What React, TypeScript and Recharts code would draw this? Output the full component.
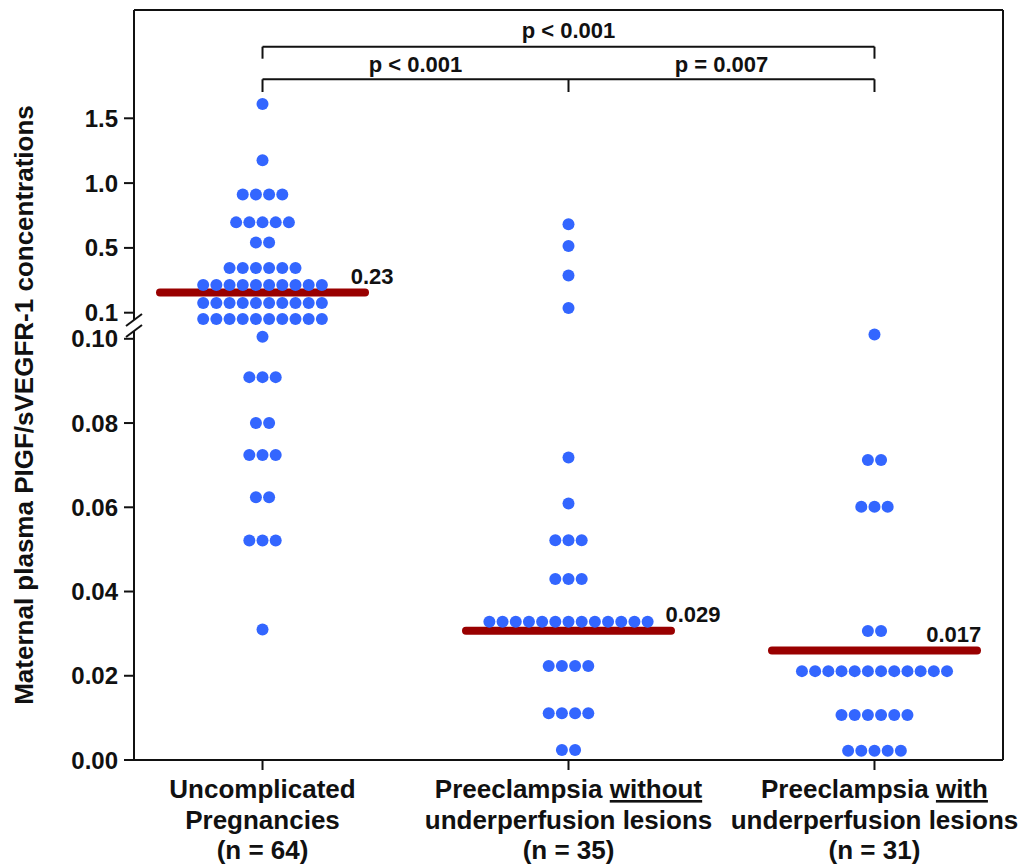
import React from "react";
import { ScatterChart, Scatter, XAxis, YAxis, ReferenceLine, Label } from "recharts";

const uncomplicatedValues = [1.61, 1.177, 0.912, 0.697, 0.541, 0.376, 0.271, 0.16, 0.1047, 0.1005, 0.0909, 0.08, 0.0724, 0.0624, 0.0521, 0.031];
const uncomplicatedCounts = [1, 1, 4, 5, 2, 6, 10, 10, 10, 1, 3, 2, 3, 2, 3, 1];
const withoutValues = [0.683, 0.515, 0.329, 0.129, 0.0718, 0.0609, 0.0522, 0.043, 0.0328, 0.0223, 0.0111, 0.0024];
const withoutCounts = [1, 1, 1, 1, 1, 1, 3, 3, 13, 4, 4, 2];
const withValues = [0.101, 0.0712, 0.0601, 0.0306, 0.0211, 0.0107, 0.0022];
const withCounts = [1, 2, 3, 2, 12, 6, 5];

const medianValues = [0.225, 0.0307, 0.026];
const medianLabels = ["0.23", "0.029", "0.017"];

const labelLine1 = [["Uncomplicated", ""], ["Preeclampsia ", "without"], ["Preeclampsia ", "with"]];
const labelLine2 = ["Pregnancies", "underperfusion lesions", "underperfusion lesions"];
const groupSizes = [64, 35, 31];

const lowTicks = [0, 0.02, 0.04, 0.06, 0.08, 0.1];
const lowTickLabels = ["0.00", "0.02", "0.04", "0.06", "0.08", "0.10"];
const highTicks = [0.1, 0.5, 1.0, 1.5];
const highTickLabels = ["0.1", "0.5", "1.0", "1.5"];

const pLabels = ["p < 0.001", "p < 0.001", "p = 0.007"];

const FONT = '"Liberation Sans", Arial, Helvetica, sans-serif';
const BLUE = "#3366ff";
const RED = "#990000";
const INK = "#111";

// broken y axis: linear 0..0.10 below the break, stretched segment above it
const LOW_SCALE = 4212;
const HIGH_POS = [447.3, 512.1, 576.9, 641.7];
function highPos(v: number) {
  const i = v <= 0.5 ? 0 : v <= 1.0 ? 1 : 2;
  const a = highTicks[i], b = highTicks[i + 1];
  return HIGH_POS[i] + ((v - a) / (b - a)) * (HIGH_POS[i + 1] - HIGH_POS[i]);
}
const axisPos = (v: number) => Math.min(v * LOW_SCALE, highPos(v));

const X_MIN = 0.58, X_MAX = 3.42, Y_MAX = 750;
const DOT_STEP = 0.0431;
const px = (p: number) => X_MIN + (p - 134) / 306; // frame decoration helpers
const py = (p: number) => 760 - p;

function swarm(center: number, values: number[], counts: number[]) {
  const pts: { x: number; y: number }[] = [];
  values.forEach((v, r) => {
    const n = counts[r];
    for (let k = 0; k < n; k++) pts.push({ x: center + (k - (n - 1) / 2) * DOT_STEP, y: axisPos(v) });
  });
  return pts;
}

const tickText: Record<string, string> = {};
lowTicks.forEach((t, i) => (tickText[(t * LOW_SCALE).toFixed(1)] = lowTickLabels[i]));
highTicks.forEach((t, i) => (tickText[highPos(t).toFixed(1)] = highTickLabels[i]));
const yTicks = [...lowTicks.map((t) => t * LOW_SCALE), ...highTicks.map(highPos)];

const Dot = (p: any) => <circle cx={p.cx} cy={p.cy} r={6} fill={BLUE} />;

const XTick = (p: any) => {
  const i = Math.round(p.payload.value) - 1;
  const base = p.y;
  const common = { x: p.x, textAnchor: "middle" as const, fontSize: 26, fontWeight: 700, fontFamily: FONT, fill: INK };
  return (
    <g>
      <text {...common} y={base + 26}>
        {labelLine1[i][0]}
        {labelLine1[i][1] && <tspan style={{ textDecoration: "underline" }}>{labelLine1[i][1]}</tspan>}
      </text>
      <text {...common} y={base + 56.5}>{labelLine2[i]}</text>
      <text {...common} y={base + 86.5}>{`(n = ${groupSizes[i]})`}</text>
    </g>
  );
};

const Title = (p: any) => {
  const vb = p.viewBox || { x: 0, y: 10, height: 750 };
  const x = vb.x + 24, y = vb.y + vb.height / 2 + 20;
  return (
    <text x={x} y={y} transform={`rotate(-90 ${x} ${y})`} textAnchor="middle" dominantBaseline="central"
      fontSize={26} fontWeight={700} fontFamily={FONT} fill={INK}>
      Maternal plasma PIGF/sVEGFR-1 concentrations
    </text>
  );
};

const medianLabelData = medianValues.map((m, i) => ({ x: i + 1 + [0.358, 0.407, 0.259][i], y: axisPos(m) + 16, text: medianLabels[i] }));
const pLabelData = [
  { x: 2, y: py(38), text: pLabels[0] },
  { x: 1.5, y: py(71.5), text: pLabels[1] },
  { x: 2.5, y: py(71.5), text: pLabels[2] },
];
const TextMark = (size: number, baseline: string) => (p: any) => (
  <text x={p.cx} y={p.cy} textAnchor="middle" dominantBaseline={baseline} fontSize={size} fontWeight={700} fontFamily={FONT} fill={INK}>
    {p.payload.text}
  </text>
);

const line = { stroke: INK, strokeWidth: 2, ifOverflow: "visible" as const };

export default function App() {
  return (
    <div style={{ position: "absolute", left: 0, top: 0, background: "#fff" }}>
      <ScatterChart width={1022} height={865} margin={{ top: 10, right: 19, bottom: 0, left: 0 }}>
        <XAxis type="number" dataKey="x" domain={[X_MIN, X_MAX]} ticks={[1, 2, 3]} allowDataOverflow
          height={105} tickSize={10} tick={XTick} interval={0}
          axisLine={{ stroke: INK, strokeWidth: 2 }} tickLine={{ stroke: INK, strokeWidth: 2 }} />
        <YAxis type="number" dataKey="y" domain={[0, Y_MAX]} ticks={yTicks} interval={0} allowDataOverflow
          width={134} tickSize={10} tickMargin={6} axisLine={false}
          tickLine={{ stroke: INK, strokeWidth: 2 }}
          tickFormatter={(v: number) => tickText[v.toFixed(1)] ?? ""}
          tick={{ fill: INK, fontSize: 24, fontWeight: 700, fontFamily: FONT }}>
          <Label content={Title} />
        </YAxis>

        {/* frame and broken left axis */}
        <ReferenceLine segment={[{ x: X_MIN, y: Y_MAX }, { x: X_MAX, y: Y_MAX }]} {...line} />
        <ReferenceLine segment={[{ x: X_MAX, y: 0 }, { x: X_MAX, y: Y_MAX }]} {...line} />
        <ReferenceLine segment={[{ x: X_MIN, y: py(320) }, { x: X_MIN, y: Y_MAX }]} {...line} />
        <ReferenceLine segment={[{ x: X_MIN, y: 0 }, { x: X_MIN, y: py(331) }]} {...line} />
        <ReferenceLine segment={[{ x: px(126), y: py(326) }, { x: px(142), y: py(314) }]} {...line} />
        <ReferenceLine segment={[{ x: px(126), y: py(337) }, { x: px(142), y: py(325) }]} {...line} />

        {/* significance brackets */}
        <ReferenceLine segment={[{ x: 1, y: py(46.7) }, { x: 3, y: py(46.7) }]} {...line} />
        <ReferenceLine segment={[{ x: 1, y: py(46.7) }, { x: 1, y: py(58.7) }]} {...line} />
        <ReferenceLine segment={[{ x: 3, y: py(46.7) }, { x: 3, y: py(58.7) }]} {...line} />
        <ReferenceLine segment={[{ x: 1, y: py(79.3) }, { x: 3, y: py(79.3) }]} {...line} />
        <ReferenceLine segment={[{ x: 1, y: py(79.3) }, { x: 1, y: py(92) }]} {...line} />
        <ReferenceLine segment={[{ x: 2, y: py(79.3) }, { x: 2, y: py(92) }]} {...line} />
        <ReferenceLine segment={[{ x: 3, y: py(79.3) }, { x: 3, y: py(92) }]} {...line} />

        <Scatter data={swarm(1, uncomplicatedValues, uncomplicatedCounts)} shape={Dot} isAnimationActive={false} />
        <Scatter data={swarm(2, withoutValues, withoutCounts)} shape={Dot} isAnimationActive={false} />
        <Scatter data={swarm(3, withValues, withCounts)} shape={Dot} isAnimationActive={false} />

        {medianValues.map((m, i) => (
          <ReferenceLine key={i} segment={[{ x: i + 1 - 0.335, y: axisPos(m) }, { x: i + 1 + 0.335, y: axisPos(m) }]}
            stroke={RED} strokeWidth={8} strokeLinecap="round" ifOverflow="visible" />
        ))}
        <Scatter data={medianLabelData} shape={TextMark(22, "central")} isAnimationActive={false} />
        <Scatter data={pLabelData} shape={TextMark(22, "alphabetic")} isAnimationActive={false} />
      </ScatterChart>
    </div>
  );
}
